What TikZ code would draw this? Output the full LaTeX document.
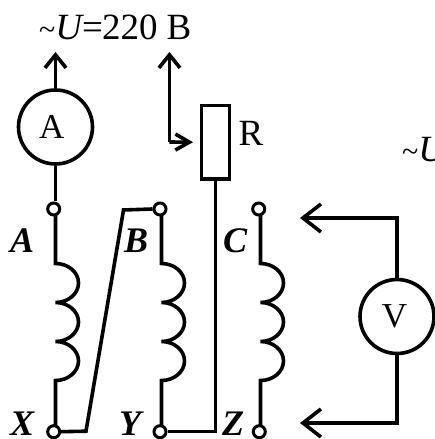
\documentclass[tikz,border=0pt]{standalone}
\usepackage{fontspec}
\setmainfont{Liberation Serif}
\usetikzlibrary{arrows.meta}
\tikzset{
  wire/.style = {line width=3.6pt},
  tipsmall/.style = {-{Straight Barb[length=13pt,width=21pt]}},
  tipside/.style = {-{Straight Barb[length=14pt,width=16pt]}},
  tipbig/.style = {-{Straight Barb[length=18pt,width=28pt]}},
  meter/.style = {draw, circle, line width=3.6pt, minimum size=74pt, inner sep=0pt, font=\fontsize{35}{35}\selectfont},
  terminal/.style = {draw, circle, line width=3pt, minimum size=12pt, inner sep=0pt},
  terminalname/.style = {anchor=base west, inner sep=0pt, font=\fontsize{36}{36}\selectfont\bfseries\itshape},
  plaintext/.style = {anchor=base west, inner sep=0pt, font=\fontsize{37}{37}\selectfont},
}
\newcommand{\smalltilde}{{\fontsize{30}{30}\selectfont\textasciitilde}}
\begin{document}
\begin{tikzpicture}[x=1pt, y=1pt]
        \useasboundingbox (0,0) rectangle (435,439);

        \node [meter] (ammeter) at (55.5,312) {A\kern7.5pt};
        \node [meter] (voltmeter) at (397,122.5) {V\kern5pt};
        \node [draw, wire, minimum width=28pt, minimum height=73.5pt, inner sep=0pt] (resistor) at (215.3,296.7) {};

        \node [terminal] (termA) at (53.7,230) {};
        \node [terminal] (termB) at (160,230) {};
        \node [terminal] (termC) at (258.7,230) {};
        \node [terminal] (termX) at (53.7,7.3) {};
        \node [terminal] (termY) at (160,7.3) {};
        \node [terminal] (termZ) at (259.3,7.3) {};

        \coordinate (tipA) at (55.5,387);
        \coordinate (tipR) at (169.5,387);
        \coordinate (tipVtop) at (300,221);
        \coordinate (tipVbottom) at (300,16);

        % supply and meters
        \draw [wire, tipsmall] (ammeter) -- (tipA);
        \draw [wire] (ammeter) -- (ammeter |- termA.north);
        \draw [wire, tipsmall] (169.5,297) -- (tipR);
        \draw [wire, tipside, shorten >=6.5pt] (169.5,297) -- (resistor.west);
        \draw [wire, tipbig] (voltmeter) |- (tipVtop);
        \draw [wire, tipbig] (voltmeter) |- (tipVbottom);

        % windings
        \draw [wire] (55.5,224.5) -- (55.5,175.5)
            arc [start angle=90, end angle=-90, x radius=23pt, y radius=19.5pt]
            arc [start angle=90, end angle=-90, x radius=23pt, y radius=19.5pt]
            arc [start angle=90, end angle=-90, x radius=23pt, y radius=19.5pt]
            -- (55.5,13);
        \draw [wire] (161.5,224.5) -- (161.5,175.5)
            arc [start angle=90, end angle=-90, x radius=23pt, y radius=19.5pt]
            arc [start angle=90, end angle=-90, x radius=23pt, y radius=19.5pt]
            arc [start angle=90, end angle=-90, x radius=23pt, y radius=19.5pt]
            -- (161.5,13);
        \draw [wire] (260.5,224.5) -- (260.5,175.5)
            arc [start angle=90, end angle=-90, x radius=23pt, y radius=19.5pt]
            arc [start angle=90, end angle=-90, x radius=23pt, y radius=19.5pt]
            arc [start angle=90, end angle=-90, x radius=23pt, y radius=19.5pt]
            -- (260.5,13);

        % links between windings
        \draw [wire] (termX.east) -- (86,7.8) -- (123.5,229) -- (termB.west);
        \draw [wire] (resistor.south) |- (termY.east);

        \node [plaintext] (supply) at (39,399) {\smalltilde\textit{U}\kern-2pt=\kern-1pt220 B};
        \node [plaintext] (Rname) at (238.5,293) {R};
        \node [plaintext] (outU) at (402,277) {\smalltilde\textit{U}};

        \node [terminalname] (nameA) at (10,186) {A};
        \node [terminalname] (nameB) at (124,186) {B};
        \node [terminalname] (nameC) at (223,186) {C};
        \node [terminalname] (nameX) at (10,4) {X};
        \node [terminalname] (nameY) at (119,4) {Y};
        \node [terminalname] (nameZ) at (222,4) {Z};
    \end{tikzpicture}
\end{document}
